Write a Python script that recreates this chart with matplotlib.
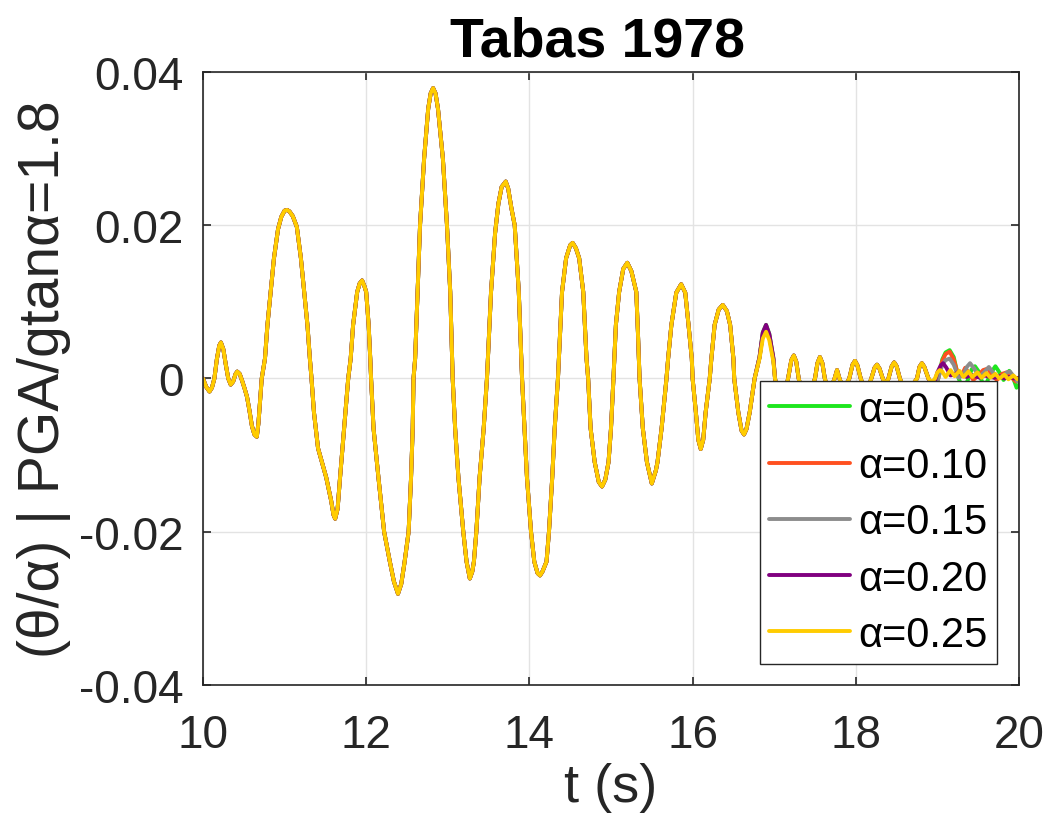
import matplotlib
matplotlib.use("Agg")
import matplotlib.pyplot as plt
import numpy as np
from matplotlib.ticker import FuncFormatter

plt.rcParams["font.family"] = ["Liberation Sans", "DejaVu Sans"]
plt.rcParams["axes.unicode_minus"] = False

# rocking response, identical for all slopes up to t = 16.76 s
T_COMMON = [
    10.00, 10.04, 10.08, 10.11, 10.14, 10.17, 10.20, 10.22, 10.25, 10.28,
    10.31, 10.34, 10.37, 10.40, 10.42, 10.45, 10.48, 10.51, 10.54, 10.57,
    10.60, 10.63, 10.66, 10.68, 10.70, 10.72, 10.76, 10.79, 10.83, 10.87,
    10.92, 10.96, 11.00, 11.03, 11.06, 11.10, 11.15, 11.20, 11.24, 11.28,
    11.31, 11.33, 11.36, 11.41, 11.46, 11.51, 11.57, 11.60, 11.62, 11.65,
    11.68, 11.73, 11.78, 11.81, 11.84, 11.89, 11.92, 11.95, 11.98, 12.00,
    12.03, 12.05, 12.06, 12.09, 12.15, 12.22, 12.29, 12.34, 12.39, 12.43,
    12.47, 12.52, 12.55, 12.57, 12.58, 12.60, 12.63, 12.66, 12.71, 12.76,
    12.79, 12.82, 12.85, 12.88, 12.94, 12.99, 13.03, 13.05, 13.06, 13.09,
    13.13, 13.19, 13.23, 13.27, 13.30, 13.32, 13.35, 13.39, 13.44, 13.48,
    13.53, 13.58, 13.62, 13.66, 13.71, 13.74, 13.78, 13.82, 13.87, 13.90,
    13.91, 13.94, 13.97, 14.02, 14.06, 14.10, 14.13, 14.16, 14.21, 14.24,
    14.28, 14.31, 14.35, 14.40, 14.45, 14.50, 14.53, 14.57, 14.61, 14.66,
    14.70, 14.72, 14.75, 14.80, 14.85, 14.89, 14.93, 14.97, 15.00, 15.03,
    15.06, 15.10, 15.15, 15.20, 15.25, 15.31, 15.33, 15.35, 15.39, 15.44,
    15.50, 15.55, 15.57, 15.62, 15.68, 15.70, 15.74, 15.80, 15.86, 15.91,
    15.95, 15.99, 16.00, 16.04, 16.07, 16.10, 16.13, 16.16, 16.21, 16.23,
    16.27, 16.32, 16.37, 16.42, 16.46, 16.50, 16.51, 16.56, 16.60, 16.63,
    16.66, 16.70, 16.76,
]
Y_COMMON = [
    0.0000, -0.0011, -0.0017, -0.0012, 0.0000, 0.0025, 0.0043, 0.0047, 0.0038, 0.0018,
    0.0000, -0.0008, -0.0004, 0.0006, 0.0009, 0.0006, -0.0003, -0.0013, -0.0024, -0.0042,
    -0.0062, -0.0073, -0.0076, -0.0058, -0.0028, 0.0000, 0.0026, 0.0070, 0.0113, 0.0157,
    0.0195, 0.0211, 0.0219, 0.0220, 0.0218, 0.0212, 0.0198, 0.0157, 0.0113, 0.0070,
    0.0026, 0.0000, -0.0044, -0.0091, -0.0110, -0.0129, -0.0159, -0.0178, -0.0183, -0.0170,
    -0.0129, -0.0065, 0.0000, 0.0026, 0.0070, 0.0113, 0.0124, 0.0128, 0.0120, 0.0113,
    0.0070, 0.0026, 0.0000, -0.0065, -0.0129, -0.0200, -0.0239, -0.0265, -0.0281, -0.0268,
    -0.0240, -0.0200, -0.0129, -0.0065, 0.0000, 0.0026, 0.0113, 0.0200, 0.0287, 0.0352,
    0.0372, 0.0379, 0.0372, 0.0352, 0.0287, 0.0200, 0.0113, 0.0040, 0.0000, -0.0065,
    -0.0129, -0.0200, -0.0239, -0.0261, -0.0252, -0.0239, -0.0200, -0.0129, -0.0065, 0.0000,
    0.0113, 0.0190, 0.0228, 0.0250, 0.0257, 0.0248, 0.0222, 0.0200, 0.0113, 0.0026,
    0.0000, -0.0065, -0.0129, -0.0200, -0.0239, -0.0254, -0.0257, -0.0252, -0.0239, -0.0200,
    -0.0129, -0.0065, 0.0000, 0.0113, 0.0157, 0.0174, 0.0177, 0.0170, 0.0157, 0.0113,
    0.0026, 0.0000, -0.0065, -0.0109, -0.0135, -0.0141, -0.0132, -0.0109, -0.0065, 0.0000,
    0.0070, 0.0113, 0.0143, 0.0151, 0.0140, 0.0113, 0.0060, 0.0000, -0.0065, -0.0109,
    -0.0137, -0.0120, -0.0109, -0.0065, 0.0000, 0.0026, 0.0070, 0.0112, 0.0123, 0.0112,
    0.0070, 0.0026, 0.0000, -0.0044, -0.0080, -0.0092, -0.0080, -0.0044, 0.0000, 0.0026,
    0.0070, 0.0090, 0.0096, 0.0088, 0.0070, 0.0026, 0.0000, -0.0044, -0.0068, -0.0073,
    -0.0066, -0.0044, 0.0000,
]

# last large swing, where the slopes start to separate
T_BUMP = [16.82, 16.86, 16.90, 16.94, 16.99]
Y_BUMP_005 = [0.0028, 0.0060, 0.0070, 0.0058, 0.0026]
Y_BUMP_010 = [0.0027, 0.0058, 0.0068, 0.0056, 0.0025]
Y_BUMP_015 = [0.0027, 0.0057, 0.0066, 0.0055, 0.0024]
Y_BUMP_020 = [0.0028, 0.0060, 0.0070, 0.0058, 0.0027]
Y_BUMP_025 = [0.0026, 0.0052, 0.0061, 0.0050, 0.0022]

# small free rocking cycles
T_LATE = [
    17.01, 17.05, 17.09, 17.13, 17.17, 17.21, 17.24, 17.27, 17.30, 17.35,
    17.40, 17.45, 17.50, 17.53, 17.56, 17.59, 17.62, 17.66, 17.70, 17.74,
    17.77, 17.80, 17.84, 17.88, 17.92, 17.96, 17.99, 18.02, 18.06, 18.11,
    18.15, 18.19, 18.23, 18.26, 18.29, 18.33, 18.37, 18.40, 18.44, 18.47,
    18.50, 18.54, 18.60, 18.66, 18.71, 18.75, 18.78, 18.81, 18.84,
]
Y_LATE = [
    0.0000, -0.0022, -0.0030, -0.0020, 0.0000, 0.0024, 0.0030, 0.0022, 0.0000, -0.0022,
    -0.0028, -0.0015, 0.0000, 0.0020, 0.0028, 0.0020, 0.0000, -0.0015, -0.0012, 0.0000,
    0.0011, 0.0000, -0.0012, -0.0008, 0.0000, 0.0018, 0.0023, 0.0017, 0.0000, -0.0015,
    -0.0012, 0.0000, 0.0014, 0.0018, 0.0013, 0.0000, -0.0008, 0.0000, 0.0016, 0.0021,
    0.0016, 0.0000, -0.0016, -0.0016, -0.0006, 0.0000, 0.0015, 0.0020, 0.0015,
]

# end of record, one tail per slope
T_END_005 = [18.89, 18.95, 19.01, 19.06, 19.10, 19.15, 19.20, 19.26, 19.32, 19.38,
             19.42, 19.46, 19.50, 19.55, 19.60, 19.66, 19.71, 19.76, 19.81, 19.85,
             19.88, 19.93, 19.97, 20.00]
Y_END_005 = [0.0000, -0.0018, 0.0000, 0.0025, 0.0034, 0.0037, 0.0028, 0.0000, -0.0015, 0.0000,
             0.0012, 0.0016, 0.0010, -0.0005, -0.0006, 0.0008, 0.0016, 0.0008, -0.0002, 0.0004,
             0.0010, 0.0000, -0.0012, -0.0008]
T_END_010 = [18.89, 18.95, 19.01, 19.06, 19.10, 19.15, 19.20, 19.26, 19.30, 19.34,
             19.38, 19.44, 19.50, 19.56, 19.62, 19.67, 19.73, 19.79, 19.85, 19.91,
             19.96, 20.00]
Y_END_010 = [0.0000, -0.0016, 0.0000, 0.0023, 0.0032, 0.0035, 0.0025, 0.0002, 0.0005, 0.0014,
             0.0008, -0.0002, 0.0004, 0.0011, 0.0013, 0.0004, -0.0002, 0.0006, 0.0008, 0.0001,
             -0.0004, 0.0001]
T_END_015 = [18.89, 18.95, 19.01, 19.06, 19.10, 19.15, 19.20, 19.26, 19.31, 19.36,
             19.40, 19.45, 19.51, 19.57, 19.63, 19.68, 19.74, 19.80, 19.85, 19.89,
             19.94, 19.98, 20.00]
Y_END_015 = [0.0000, -0.0014, 0.0000, 0.0018, 0.0024, 0.0026, 0.0018, 0.0001, 0.0004, 0.0015,
             0.0020, 0.0013, 0.0002, 0.0008, 0.0015, 0.0008, 0.0002, 0.0003, 0.0008, 0.0009,
             0.0002, -0.0004, -0.0003]
T_END_020 = [18.89, 18.95, 19.00, 19.04, 19.07, 19.11, 19.16, 19.21, 19.26, 19.31,
             19.36, 19.41, 19.46, 19.52, 19.58, 19.64, 19.70, 19.76, 19.82, 19.88,
             19.94, 20.00]
Y_END_020 = [0.0000, -0.0010, 0.0008, 0.0017, 0.0020, 0.0014, 0.0004, 0.0005, 0.0009, 0.0004,
             0.0002, 0.0005, 0.0003, 0.0001, 0.0004, 0.0002, 0.0001, 0.0003, 0.0000, 0.0002,
             0.0000, 0.0001]
T_END_025 = [18.89, 18.93, 18.97, 19.00, 19.03, 19.06, 19.10, 19.16, 19.21, 19.27,
             19.32, 19.38, 19.43, 19.49, 19.54, 19.60, 19.65, 19.71, 19.76, 19.82,
             19.87, 19.93, 19.98, 20.00]
Y_END_025 = [0.0000, -0.0005, 0.0000, 0.0008, 0.0011, 0.0009, 0.0002, 0.0011, 0.0003, 0.0010,
             0.0002, 0.0009, 0.0002, 0.0008, 0.0001, 0.0007, 0.0001, 0.0006, 0.0000, 0.0005,
             -0.0001, 0.0004, -0.0001, 0.0000]

SERIES = [
    ("α=0.05", "#1EE61E", Y_BUMP_005, T_END_005, Y_END_005),
    ("α=0.10", "#FF5020", Y_BUMP_010, T_END_010, Y_END_010),
    ("α=0.15", "#8C8C8C", Y_BUMP_015, T_END_015, Y_END_015),
    ("α=0.20", "#80007F", Y_BUMP_020, T_END_020, Y_END_020),
    ("α=0.25", "#FFCC00", Y_BUMP_025, T_END_025, Y_END_025),
]

INK = "#262626"

fig = plt.figure(figsize=(10.5, 8.37), dpi=100)
ax = fig.add_axes([0.1933, 0.1804, 0.7772, 0.7324])

for label, color, y_bump, t_end, y_end in SERIES:
    t = np.concatenate([T_COMMON, T_BUMP, T_LATE, t_end])
    y = np.concatenate([Y_COMMON, y_bump, Y_LATE, y_end])
    ax.plot(t, y, color=color, linewidth=2.8, label=label,
            solid_joinstyle="round", solid_capstyle="round")

ax.set_xlim(10, 20)
ax.set_ylim(-0.04, 0.04)
ax.set_xticks([10, 12, 14, 16, 18, 20])
ax.set_yticks([-0.04, -0.02, 0, 0.02, 0.04])
ax.yaxis.set_major_formatter(FuncFormatter(lambda v, pos: "0" if abs(v) < 1e-12 else f"{v:.2f}"))

ax.grid(True, color="#E3E3E3", linewidth=1.0)
ax.set_axisbelow(True)
ax.tick_params(direction="in", length=6, width=1.2, colors=INK, labelsize=33,
               top=True, right=True)
ax.tick_params(axis="y", pad=14)
ax.tick_params(axis="x", pad=20)
for spine in ax.spines.values():
    spine.set_color(INK)
    spine.set_linewidth(1.2)

ax.set_xlabel("t (s)", fontsize=39, color=INK, labelpad=4)
ax.set_ylabel("(θ/α) | PGA/gtanα=1.8", fontsize=41, color=INK, labelpad=6)
ax.set_title("Tabas 1978", fontsize=40, fontweight="bold", pad=12, x=0.483)

leg = ax.legend(loc="lower right", bbox_to_anchor=(0.973, 0.034), borderaxespad=0,
                fontsize=30, handlelength=1.95, handletextpad=0.2, labelspacing=0.39,
                borderpad=0.22, fancybox=False, framealpha=1)
leg.get_frame().set_edgecolor(INK)
leg.get_frame().set_linewidth(1.0)
for line in leg.get_lines():
    line.set_linewidth(2.8)

fig.savefig("out.png", dpi=100)
